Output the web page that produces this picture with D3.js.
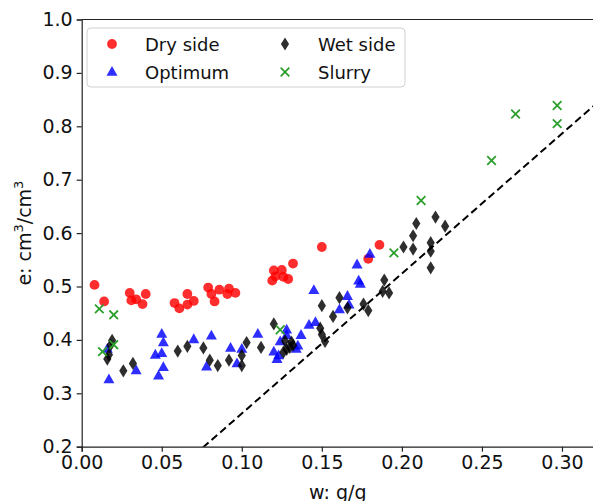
<!DOCTYPE html>
<html>
<head>
<meta charset="utf-8">
<script src="https://cdn.jsdelivr.net/npm/d3@7"></script>
<style>
  body { margin: 0; background: #fff; }
  text { font-family: "DejaVu Sans", sans-serif; }
</style>
</head>
<body>
<div id="chart-area"></div>
<script>
// ----------------- Data -----------------
let dry_w = [0.008, 0.014, 0.030, 0.031, 0.034, 0.038, 0.040, 0.058, 0.061, 0.066, 0.066, 0.070, 0.079, 0.081, 0.083, 0.086, 0.091, 0.092, 0.096, 0.119, 0.120, 0.121, 0.125, 0.126, 0.129, 0.132, 0.150, 0.179, 0.186];
let dry_e = [0.503, 0.472, 0.488, 0.474, 0.476, 0.467, 0.486, 0.469, 0.459, 0.486, 0.466, 0.473, 0.498, 0.486, 0.472, 0.494, 0.486, 0.496, 0.488, 0.511, 0.530, 0.519, 0.531, 0.518, 0.514, 0.543, 0.574, 0.552, 0.578];

let opt_w = [0.017, 0.016, 0.034, 0.048, 0.046, 0.050, 0.050, 0.051, 0.051, 0.070, 0.078, 0.081, 0.093, 0.097, 0.100, 0.110, 0.120, 0.122, 0.123, 0.124, 0.128, 0.128, 0.134, 0.135, 0.137, 0.142, 0.146, 0.145, 0.161, 0.166, 0.167, 0.172, 0.173, 0.174, 0.180];
let opt_e = [0.326, 0.383, 0.343, 0.333, 0.372, 0.411, 0.375, 0.395, 0.349, 0.401, 0.350, 0.408, 0.385, 0.356, 0.383, 0.411, 0.378, 0.364, 0.371, 0.397, 0.419, 0.409, 0.383, 0.389, 0.409, 0.428, 0.433, 0.493, 0.457, 0.482, 0.466, 0.541, 0.511, 0.505, 0.561];

let wet_w = [0.016, 0.017, 0.018, 0.019, 0.026, 0.032, 0.060, 0.066, 0.076, 0.080, 0.085, 0.092, 0.100, 0.100, 0.103, 0.112, 0.120, 0.126, 0.127, 0.128, 0.130, 0.131, 0.132, 0.149, 0.150, 0.150, 0.152, 0.157, 0.161, 0.166, 0.176, 0.179, 0.188, 0.189, 0.192, 0.201, 0.207, 0.207, 0.209, 0.218, 0.218, 0.218, 0.221, 0.227];
let wet_e = [0.364, 0.372, 0.390, 0.399, 0.342, 0.356, 0.379, 0.388, 0.385, 0.362, 0.352, 0.362, 0.371, 0.352, 0.395, 0.386, 0.430, 0.377, 0.398, 0.382, 0.386, 0.396, 0.390, 0.422, 0.410, 0.464, 0.397, 0.444, 0.479, 0.460, 0.467, 0.455, 0.491, 0.512, 0.488, 0.574, 0.570, 0.595, 0.618, 0.582, 0.566, 0.535, 0.630, 0.613];

let slurry_w = [0.011, 0.020, 0.013, 0.020, 0.124, 0.195, 0.212, 0.256, 0.271, 0.297, 0.297];
let slurry_e = [0.458, 0.447, 0.378, 0.391, 0.419, 0.563, 0.661, 0.736, 0.823, 0.839, 0.805];

// saturation line e = Gs * w
let line_w = [0, 0.33];
let line_e = [0, 0.865];

let x_ticks = [0.00, 0.05, 0.10, 0.15, 0.20, 0.25, 0.30];
let y_ticks = [0.2, 0.3, 0.4, 0.5, 0.6, 0.7, 0.8, 0.9, 1.0];

// ----------------- Setup -----------------
let margin = { left: 81.7, right: -1, top: 19.5, bottom: 54.3 };
let width = 593 - margin.left - margin.right;
let height = 501 - margin.top - margin.bottom;

let svg = d3.select("#chart-area")
  .append("svg")
    .attr("width", 593)
    .attr("height", 501)

let group = svg.append("g")
  .attr("transform", `translate(${margin.left}, ${margin.top})`)

let x = d3.scaleLinear()
  .domain([0, 0.32])
  .range([0, width])

let y = d3.scaleLinear()
  .domain([0.2, 1.0])
  .range([height, 0])

group.append("clipPath")
  .attr("id", "clip")
  .append("rect")
    .attr("width", width)
    .attr("height", height)

// ----------------- Axes -----------------
let x_axis = group.append("g")
  .attr("transform", `translate(0, ${height})`)
  .call(d3.axisBottom(x).tickValues(x_ticks).tickFormat(d3.format(".2f")).tickSizeOuter(0).tickSize(5).tickPadding(4))
let y_axis = group.append("g")
  .call(d3.axisLeft(y).tickValues(y_ticks).tickFormat(d3.format(".1f")).tickSizeOuter(0).tickSize(5).tickPadding(4))

group.selectAll(".tick text")
  .attr("font-family", "DejaVu Sans")
  .attr("font-size", "19px")
  .attr("fill", "#111")
group.selectAll(".tick line, .domain")
  .attr("stroke", "#222")
  .attr("stroke-width", 1.2)

// top spine
group.append("line")
  .attr("x1", 0).attr("x2", width)
  .attr("y1", 0).attr("y2", 0)
  .attr("stroke", "#222")
  .attr("stroke-width", 1.2)

// X Label
svg.append("text")
  .attr("x", margin.left + width / 2)
  .attr("y", 499)
  .attr("font-size", "19px")
  .attr("text-anchor", "middle")
  .attr("fill", "#111")
  .text("w: g/g")

// Y Label
let y_label = svg.append("text")
  .attr("transform", `translate(31, ${margin.top + height / 2}) rotate(-90)`)
  .attr("font-size", "19px")
  .attr("text-anchor", "middle")
  .attr("fill", "#111")
y_label.append("tspan").text("e: cm")
y_label.append("tspan").attr("dy", -8).attr("font-size", "13px").text("3")
y_label.append("tspan").attr("dy", 8).text("/cm")
y_label.append("tspan").attr("dy", -8).attr("font-size", "13px").text("3")

// ----------------- Marks -----------------
let plot = group.append("g").attr("clip-path", "url(#clip)")

let series = [
  { name: "Dry side", w: dry_w, e: dry_e, shape: "circle", color: "#ff0000" },
  { name: "Optimum", w: opt_w, e: opt_e, shape: "triangle", color: "#0000ff" },
  { name: "Wet side", w: wet_w, e: wet_e, shape: "diamond", color: "#000000" },
  { name: "Slurry", w: slurry_w, e: slurry_e, shape: "x", color: "#2ca02c" }
];

function draw_marker(sel, shape, color) {
  if (shape === "circle") {
    sel.append("circle").attr("r", 4.9).attr("fill", color).attr("fill-opacity", 0.82)
  } else if (shape === "triangle") {
    sel.append("path").attr("d", "M0,-6L5.5,3.8L-5.5,3.8Z").attr("fill", color).attr("fill-opacity", 0.82)
  } else if (shape === "diamond") {
    sel.append("path").attr("d", "M0,-6.6L4.1,0L0,6.6L-4.1,0Z").attr("fill", color).attr("fill-opacity", 0.82)
  } else {
    sel.append("path").attr("d", "M-4.3,-4.3L4.3,4.3M-4.3,4.3L4.3,-4.3")
      .attr("stroke", color).attr("stroke-width", 1.8).attr("fill", "none")
  }
}

// dashed line
plot.append("path")
  .datum(d3.zip(line_w, line_e))
  .attr("d", d3.line().x(d => x(d[0])).y(d => y(d[1])))
  .attr("fill", "none")
  .attr("stroke", "#000")
  .attr("stroke-width", 2)
  .attr("stroke-dasharray", "7.5,4")

for (let s of series) {
  let pts = d3.zip(s.w, s.e)
  plot.selectAll(null)
    .data(pts)
    .enter()
    .append("g")
      .attr("transform", d => `translate(${x(d[0])}, ${y(d[1])})`)
      .each(function() { draw_marker(d3.select(this), s.shape, s.color) })
}

// ----------------- Legend -----------------
let legend = svg.append("g").attr("transform", "translate(87, 28)")
legend.append("rect")
  .attr("width", 318)
  .attr("height", 59)
  .attr("rx", 4)
  .attr("fill", "#fff")
  .attr("fill-opacity", 0.8)
  .attr("stroke", "#d0d0d0")
  .attr("stroke-width", 1)

series.forEach((s, i) => {
  let col = Math.floor(i / 2);
  let row = i % 2;
  let item = legend.append("g")
    .attr("transform", `translate(${25 + col * 173}, ${16 + row * 28})`)
  draw_marker(item.append("g"), s.shape, s.color)
  item.append("text")
    .attr("x", 33)
    .attr("y", 6.5)
    .attr("font-size", "18px")
    .attr("fill", "#111")
    .text(s.name)
})
</script>
</body>
</html>
